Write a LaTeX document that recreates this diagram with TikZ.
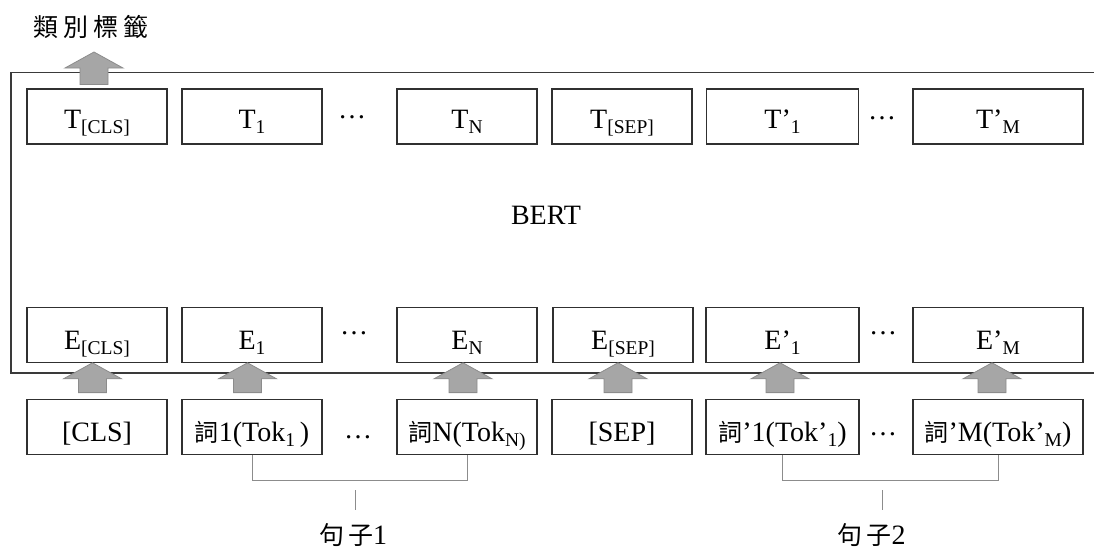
\documentclass[tikz,border=0pt]{standalone}
\usepackage{fontspec}
\setmainfont{Liberation Serif}
\newfontfamily\cjkfont{Noto Sans CJK TC}
\usetikzlibrary{calc}
\definecolor{boxcol}{HTML}{303030}
\definecolor{framecol}{HTML}{3A3A3A}
\definecolor{arrowfill}{HTML}{A6A6A6}
\definecolor{arrowedge}{HTML}{8C8C8C}
\definecolor{brackcol}{HTML}{8C8C8C}
\newcommand\cjkw[1]{{\cjkfont\fontsize{24}{28}\selectfont #1}}
\newcommand\lsub[1]{\raisebox{-5pt}{\fontsize{19.5}{22}\selectfont #1}}
% block arrow: #1 from node, #2 tip point, #3 dx, #4 gap below shaft
\newcommand\blockarrow[4]{%
  \path[blockarrowstyle] let \p1=($(#2)+(#3,0)$), \p2=($(#1.north)+(#3,-#4)$) in
   (\x1,\y1) -- (\x1-29pt,\y1-16pt) -- (\x1-14pt,\y1-16pt) -- (\x1-14pt,\y2)
   -- (\x1+14pt,\y2) -- (\x1+14pt,\y1-16pt) -- (\x1+29pt,\y1-16pt) -- cycle;}
\tikzset{
  box/.style={draw=boxcol, line width=1.2pt, minimum height=55pt, inner sep=0pt,
    text depth=0pt, font=\fontsize{28}{32}\selectfont},
  trow/.style={box, text height=23pt},
  erow/.style={box, text height=30pt},
  krow/.style={box, text height=30pt},
  frame/.style={draw=framecol, line width=1.4pt},
  blockarrowstyle/.style={fill=arrowfill, draw=arrowedge, line width=0.8pt},
  bracket/.style={draw=brackcol, line width=0.9pt},
  dots/.style={inner sep=0pt, font=\fontsize{28}{32}\selectfont},
  plain/.style={inner sep=0pt, font=\fontsize{28}{32}\selectfont},
}
\begin{document}
\begin{tikzpicture}[x=1pt,y=-1pt]
\useasboundingbox (0,0) rectangle (1094,551);

% BERT frame
\coordinate (frTR) at (1094,72.5);
\coordinate (frTL) at (11,72.5);
\coordinate (frBL) at (11,373);
\coordinate (frBR) at (1094,373);
\draw[frame] (frTR) -- (frTL) -- (frBL) -- (frBR);

% T row
\node[trow, minimum width=140pt] (tcls) at (97,116.5) {T\lsub{[CLS]}};
\node[trow, minimum width=140pt] (t1) at (252,116.5) {T\lsub{1}};
\node[dots] (tdotsA) at (352,117) {…};
\node[trow, minimum width=140pt] (tn) at (467,116.5) {T\lsub{N}};
\node[trow, minimum width=140pt] (tsep) at (622,116.5) {T\lsub{[SEP]}};
\node[trow, minimum width=152pt] (tp1) at (782.5,116.5) {T’\lsub{1}};
\node[dots] (tdotsB) at (882,118) {…};
\node[trow, minimum width=170pt] (tpm) at (998,116.5) {T’\lsub{M}};

\node[plain] (bert) at (546,215) {BERT};

% E row
\node[erow, minimum width=140pt] (ecls) at (97,334.7) {E\lsub{[CLS]}};
\node[erow, minimum width=140pt] (e1) at (252,334.7) {E\lsub{1}};
\node[dots] (edotsA) at (354,333) {…};
\node[erow, minimum width=140pt] (en) at (467,334.7) {E\lsub{N}};
\node[erow, minimum width=140pt] (esep) at (623,334.7) {E\lsub{[SEP]}};
\node[erow, minimum width=153pt] (ep1) at (782.5,334.7) {E’\lsub{1}};
\node[dots] (edotsB) at (883,333) {…};
\node[erow, minimum width=170pt] (epm) at (998,334.7) {E’\lsub{M}};

% token row
\node[krow, minimum width=140pt] (kcls) at (97,426.7) {[CLS]};
\node[krow, minimum width=140pt] (k1) at (252,426.7) {\cjkw{詞}1(Tok\lsub{1}\,)};
\node[dots] (kdotsA) at (358,437) {…};
\node[krow, minimum width=140pt] (kn) at (467,426.7) {\cjkw{詞}N(Tok\lsub{N)}};
\node[krow, minimum width=140pt] (ksep) at (622,426.7) {[SEP]};
\node[krow, minimum width=153pt] (kp1) at (782.5,426.7) {\cjkw{詞}’1(Tok’\lsub{1})};
\node[dots] (kdotsB) at (883,434) {…};
\node[krow, minimum width=170pt] (kpm) at (998,426.7) {\cjkw{詞}’M(Tok’\lsub{M})};

% block arrows
\coordinate (toptip) at (94,52);
\blockarrow{tcls}{toptip}{0}{4}
\blockarrow{kcls}{ecls.south}{-4.5}{6}
\blockarrow{k1}{e1.south}{-4.5}{6}
\blockarrow{kn}{en.south}{-4}{6}
\blockarrow{ksep}{esep.south}{-5}{6}
\blockarrow{kp1}{ep1.south}{-2.5}{6}
\blockarrow{kpm}{epm.south}{-6}{6}

% class label
\node[inner sep=0pt, font=\cjkfont\fontsize{25}{28}\selectfont] (clslabel) at (91,27)
  {類\kern5pt 別\kern5pt 標\kern5pt 籤};

% sentence brackets
\coordinate (brA) at (0,480);
\draw[bracket] (k1.south) -- (k1.south |- brA) -- (kn.south |- brA) -- (kn.south);
\coordinate (tickAa) at (355.7,490);
\coordinate (tickAb) at (355.7,510);
\draw[bracket] (tickAa) -- (tickAb);
\node[plain] (sent1) at (353,535) {\cjkfont\fontsize{25}{28}\selectfont 句\kern4pt 子\fontspec{Liberation Serif}\fontsize{28}{32}\selectfont 1};

\draw[bracket] (kp1.south) -- (kp1.south |- brA) -- (kpm.south |- brA) -- (kpm.south);
\coordinate (tickBa) at (882.3,490);
\coordinate (tickBb) at (882.3,510);
\draw[bracket] (tickBa) -- (tickBb);
\node[plain] (sent2) at (871.5,535) {\cjkfont\fontsize{25}{28}\selectfont 句\kern4pt 子\fontspec{Liberation Serif}\fontsize{28}{32}\selectfont 2};
\end{tikzpicture}
\end{document}
